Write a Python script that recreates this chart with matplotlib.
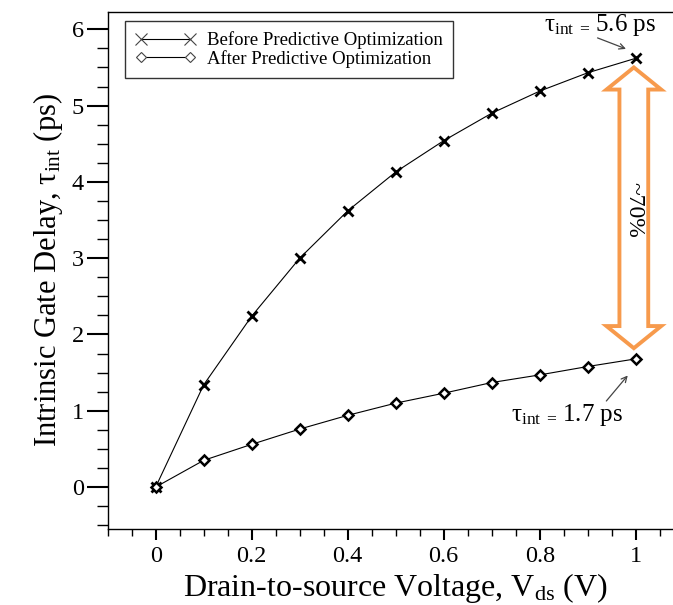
import numpy as np
import matplotlib
matplotlib.use('Agg')
import matplotlib.pyplot as plt
from matplotlib.lines import Line2D
from matplotlib.patches import Polygon
from matplotlib.ticker import MultipleLocator

plt.rcParams['font.family'] = ['Liberation Serif', 'DejaVu Serif']
plt.rcParams['mathtext.fontset'] = 'custom'
plt.rcParams['mathtext.rm'] = 'Liberation Serif'
plt.rcParams['mathtext.it'] = 'Liberation Serif:italic'

# data
vds = [0.0, 0.1, 0.2, 0.3, 0.4, 0.5, 0.6, 0.7, 0.8, 0.9, 1.0]
tau_before = [0.0, 1.34, 2.24, 3.0, 3.62, 4.13, 4.54, 4.9, 5.19, 5.43, 5.62]
tau_after = [0.0, 0.35, 0.56, 0.76, 0.94, 1.1, 1.23, 1.37, 1.47, 1.58, 1.68]
legend_labels = ['Before Predictive Optimization', 'After Predictive Optimization']

fig = plt.figure(figsize=(6.73, 6.05), dpi=100)
ax = fig.add_axes([0.160, 0.1256, 0.856, 0.855])

ax.plot(vds, tau_before, color='black', lw=0.8, marker='x', ms=7.5, mew=2)
ax.plot(vds, tau_after, color='black', lw=0.8, marker='D', ms=4.8, mew=1.8, mfc='white', mec='black')

ax.set_xlim(-0.1, 1.1)
ax.set_ylim(-0.55, 6.23)
ax.xaxis.set_major_locator(MultipleLocator(0.2))
ax.xaxis.set_minor_locator(MultipleLocator(0.05))
ax.yaxis.set_major_locator(MultipleLocator(1))
ax.yaxis.set_minor_locator(MultipleLocator(0.25))
ax.set_xticks([0, 0.2, 0.4, 0.6, 0.8, 1.0])
ax.set_xticklabels(['0', '0.2', '0.4', '0.6', '0.8', '1'])

ax.tick_params(axis='x', which='major', direction='out', length=8, width=1.5, labelsize=17.5, pad=4)
ax.tick_params(axis='x', which='minor', direction='out', length=5, width=1)
ax.tick_params(axis='y', which='major', direction='out', length=15, width=1.5, labelsize=17.5, pad=2)
ax.tick_params(axis='y', which='minor', direction='out', length=8, width=1)
for sp in ax.spines.values():
    sp.set_linewidth(1.0)

ax.set_xlabel(r'Drain-to-source Voltage, V$_{\mathrm{ds}}$ (V)', fontsize=23, labelpad=3)
ax.set_ylabel(r'Intrinsic Gate Delay, $\mathrm{τ_{int}}$ (ps)', fontsize=22, labelpad=5)

# legend with thin markers at both ends
handles = [
    Line2D([], [], color='black', lw=0.8, marker='x', ms=9, mew=0.8, mec='#444444'),
    Line2D([], [], color='black', lw=0.8, marker='D', ms=5.5, mew=0.8, mfc='white', mec='#444444'),
]
leg = ax.legend(handles, legend_labels, loc='upper left', bbox_to_anchor=(0.03, 0.982),
                borderaxespad=0, numpoints=2, handlelength=3.2, fontsize=13.5,
                fancybox=False, framealpha=1, edgecolor='#333333', labelspacing=0.05,
                borderpad=0.55, handletextpad=0.6)
leg.get_frame().set_linewidth(1.0)

# annotations
ax.annotate('', xy=(0.985, 5.73), xytext=(0.915, 5.9),
            arrowprops=dict(arrowstyle='->', color='#444444', lw=0.9))
ax.text(0.925, 6.05, r'$\mathrm{τ_{int\ =}\,5.6\ ps}$', fontsize=18, ha='center', va='center')
ax.annotate('', xy=(0.987, 1.49), xytext=(0.935, 1.1),
            arrowprops=dict(arrowstyle='->', color='#444444', lw=0.9))
ax.text(0.856, 0.95, r'$\mathrm{τ_{int\ =}\,1.7\ ps}$', fontsize=18, ha='center', va='center')

# orange double-headed block arrow
cx, ytop, ybot = 0.996, 5.5, 1.82
hw, sw, hl = 0.057, 0.03, 0.29
pts = [(cx, ytop), (cx + hw, ytop - hl), (cx + sw, ytop - hl), (cx + sw, ybot + hl),
       (cx + hw, ybot + hl), (cx, ybot), (cx - hw, ybot + hl), (cx - sw, ybot + hl),
       (cx - sw, ytop - hl), (cx - hw, ytop - hl)]
ax.add_patch(Polygon(pts, closed=True, facecolor='white', edgecolor='#f79a4c', lw=2.8, zorder=3))
ax.text(cx, 3.63, '~70%', rotation=-90, fontsize=17, ha='center', va='center', zorder=4)

fig.savefig('out.png', dpi=100)
